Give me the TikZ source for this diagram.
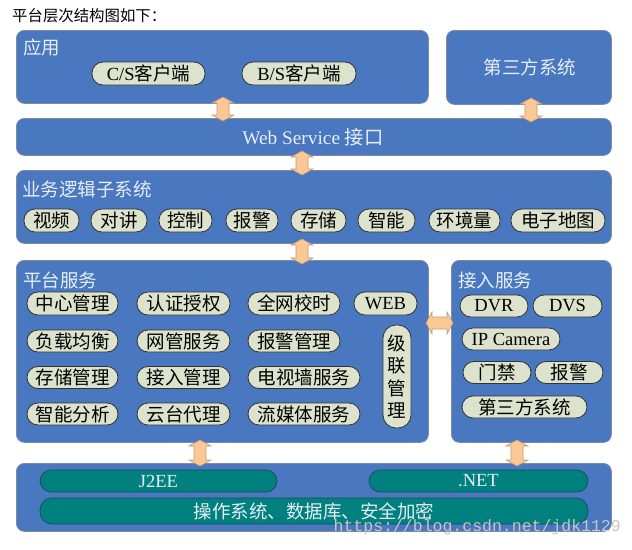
\documentclass[tikz,border=0pt]{standalone}
\usepackage{fontspec}
\setmainfont{Liberation Serif}
\newfontfamily\cjk{Noto Sans CJK SC}
\newfontfamily\wmfont{Liberation Mono}
\newcommand\zhs[1]{{\cjk #1}}
\definecolor{boxblue}{HTML}{4A78C0}
\definecolor{boxline}{HTML}{7E8A9E}
\definecolor{pillfill}{HTML}{DCE2CB}
\definecolor{pillline}{HTML}{333333}
\definecolor{tealfill}{HTML}{00807E}
\definecolor{tealline}{HTML}{1F4A55}
\definecolor{arrfill}{HTML}{FBC896}
\definecolor{arrline}{HTML}{C49A70}
\definecolor{lighttext}{HTML}{E8EEF6}
\newcommand\vdarrow[3]{% x, ytop, ybottom
  \draw[arr] (#1-6,#2+6) -- (#1-11,#2+6) -- (#1,#2) -- (#1+11,#2+6) -- (#1+6,#2+6)
    -- (#1+6,#3-6) -- (#1+11,#3-6) -- (#1,#3) -- (#1-11,#3-6) -- (#1-6,#3-6) -- cycle;}
\newcommand\hdarrow[3]{% y, xleft, xright
  \draw[arr] (#2+6,#1-6) -- (#2+6,#1-11) -- (#2,#1) -- (#2+6,#1+11) -- (#2+6,#1+6)
    -- (#3-6,#1+6) -- (#3-6,#1+11) -- (#3,#1) -- (#3-6,#1-11) -- (#3-6,#1-6) -- cycle;}
\begin{document}
\begin{tikzpicture}[x=1pt,y=-1pt,
  layer/.style={draw=boxline, fill=boxblue, rounded corners=8pt, line width=0.8pt,
    inner sep=0, anchor=north west},
  pill/.style={draw=pillline, fill=pillfill, rounded corners=11pt, line width=0.8pt,
    inner sep=0, font=\fontsize{18.5}{22}\selectfont},
  tpill/.style={draw=tealline, fill=tealfill, rounded corners=11pt, line width=0.7pt,
    inner sep=0, text=lighttext, font=\fontsize{18.5}{22}\selectfont},
  ttl/.style={text=lighttext, font=\fontsize{18.5}{22}\cjk, anchor=west, inner sep=0},
  arr/.style={draw=arrline, fill=arrfill, line width=0.6pt}]
\useasboundingbox (0,0) rectangle (632,549);
\fill[white] (0,0) rectangle (632,549);

\node[anchor=west, inner sep=0, font=\fontsize{15.4}{17}\cjk] (title) at (12,16) {平台层次结构图如下：};

% layers
\node[layer, minimum width=412pt, minimum height=73pt] (app) at (16,30) {};
\node[layer, minimum width=165pt, minimum height=74pt] (third) at (446,30) {};
\node[layer, minimum width=595pt, minimum height=37pt] (ws) at (16,118) {};
\node[layer, minimum width=595pt, minimum height=73pt] (biz) at (16,170) {};
\node[layer, minimum width=412pt, minimum height=182pt] (plat) at (16,260) {};
\node[layer, minimum width=160pt, minimum height=182pt] (acc) at (451,260) {};
\node[layer, minimum width=595pt, minimum height=68pt] (bot) at (16,463) {};

% arrows
\vdarrow{223}{97}{121}
\vdarrow{531}{98}{122}
\vdarrow{302}{151}{175}
\vdarrow{302}{239}{264}
\vdarrow{200}{440}{466}
\vdarrow{517}{440}{466}
\hdarrow{323}{426}{453}

% titles
\node[ttl] (tapp) at (23,47) {应用};
\node[ttl, anchor=center] (tthird) at (530,67) {第三方系统};
\node[inner sep=0, text=lighttext, font=\fontsize{19.3}{22}\selectfont] (tws) at (313,137) {Web Service \zhs{接口}};
\node[ttl] (tbiz) at (22,189) {业务逻辑子系统};
\node[ttl] (tplat) at (23,280) {平台服务};
\node[ttl] (tacc) at (458,280) {接入服务};

% application
\node[pill, minimum width=113pt, minimum height=23pt] (cs) at (148.5,73.5) {C/S\zhs{客户端}};
\node[pill, minimum width=114pt, minimum height=23pt] (bs) at (299,73.5) {B/S\zhs{客户端}};

% business logic
\node[pill, minimum width=55pt, minimum height=23pt] (b1) at (51.5,220.5) {\zhs{视频}};
\node[pill, minimum width=56pt, minimum height=23pt] (b2) at (119,220.5) {\zhs{对讲}};
\node[pill, minimum width=53pt, minimum height=23pt] (b3) at (185.5,220.5) {\zhs{控制}};
\node[pill, minimum width=52pt, minimum height=23pt] (b4) at (252,220.5) {\zhs{报警}};
\node[pill, minimum width=55pt, minimum height=23pt] (b5) at (318.5,220.5) {\zhs{存储}};
\node[pill, minimum width=57pt, minimum height=23pt] (b6) at (386.5,220.5) {\zhs{智能}};
\node[pill, minimum width=71pt, minimum height=23pt] (b7) at (464.5,220.5) {\zhs{环境量}};
\node[pill, minimum width=94pt, minimum height=23pt] (b8) at (558,220.5) {\zhs{电子地图}};

% platform services
\node[pill, minimum width=91pt, minimum height=23pt] (p11) at (72.5,303.5) {\zhs{中心管理}};
\node[pill, minimum width=93pt, minimum height=23pt] (p12) at (183.5,303.5) {\zhs{认证授权}};
\node[pill, minimum width=92pt, minimum height=23pt] (p13) at (294,303.5) {\zhs{全网校时}};
\node[pill, minimum width=63pt, minimum height=23pt] (p14) at (385.5,303.5) {WEB};
\node[pill, minimum width=91pt, minimum height=22pt] (p21) at (72.5,341) {\zhs{负载均衡}};
\node[pill, minimum width=93pt, minimum height=22pt] (p22) at (183.5,341) {\zhs{网管服务}};
\node[pill, minimum width=92pt, minimum height=22pt] (p23) at (294,341) {\zhs{报警管理}};
\node[pill, minimum width=91pt, minimum height=22pt] (p31) at (72.5,377.5) {\zhs{存储管理}};
\node[pill, minimum width=93pt, minimum height=22pt] (p32) at (183.5,377.5) {\zhs{接入管理}};
\node[pill, minimum width=112pt, minimum height=22pt] (p33) at (304,377.5) {\zhs{电视墙服务}};
\node[pill, minimum width=91pt, minimum height=22pt] (p41) at (72.5,414) {\zhs{智能分析}};
\node[pill, minimum width=93pt, minimum height=22pt] (p42) at (183.5,414) {\zhs{云台代理}};
\node[pill, minimum width=112pt, minimum height=22pt] (p43) at (304,414) {\zhs{流媒体服务}};
\node[pill, minimum width=28pt, minimum height=103pt, rounded corners=13pt, align=center,
  font=\fontsize{18.5}{22.5}\cjk] (cas) at (397,376.5) {级\\联\\管\\理};

% access services
\node[pill, minimum width=68pt, minimum height=22pt] (dvr) at (494,306) {DVR};
\node[pill, minimum width=69pt, minimum height=22pt] (dvs) at (567.5,306) {DVS};
\node[pill, minimum width=98pt, minimum height=22pt] (ipc) at (511,339) {IP Camera};
\node[pill, minimum width=68pt, minimum height=22pt] (door) at (497,372.5) {\zhs{门禁}};
\node[pill, minimum width=68pt, minimum height=22pt] (alarm) at (569,372.5) {\zhs{报警}};
\node[pill, minimum width=125pt, minimum height=22pt] (tps) at (524.5,407) {\zhs{第三方系统}};

% bottom platform
\node[tpill, minimum width=237pt, minimum height=22pt] (j2ee) at (158.5,481) {J2EE};
\node[tpill, minimum width=219pt, minimum height=22pt] (net) at (478.5,481) {.NET};
\node[tpill, minimum width=548pt, minimum height=26pt, rounded corners=12pt] (os) at (314,511)
  {\zhs{操作系统、数据库、安全加密}};

% watermark
\node[anchor=east, inner sep=0, text=gray!45, font=\fontsize{16.5}{18}\wmfont] (wm) at (621,527) {https://blog.csdn.net/jdk1129};
\end{tikzpicture}
\end{document}
